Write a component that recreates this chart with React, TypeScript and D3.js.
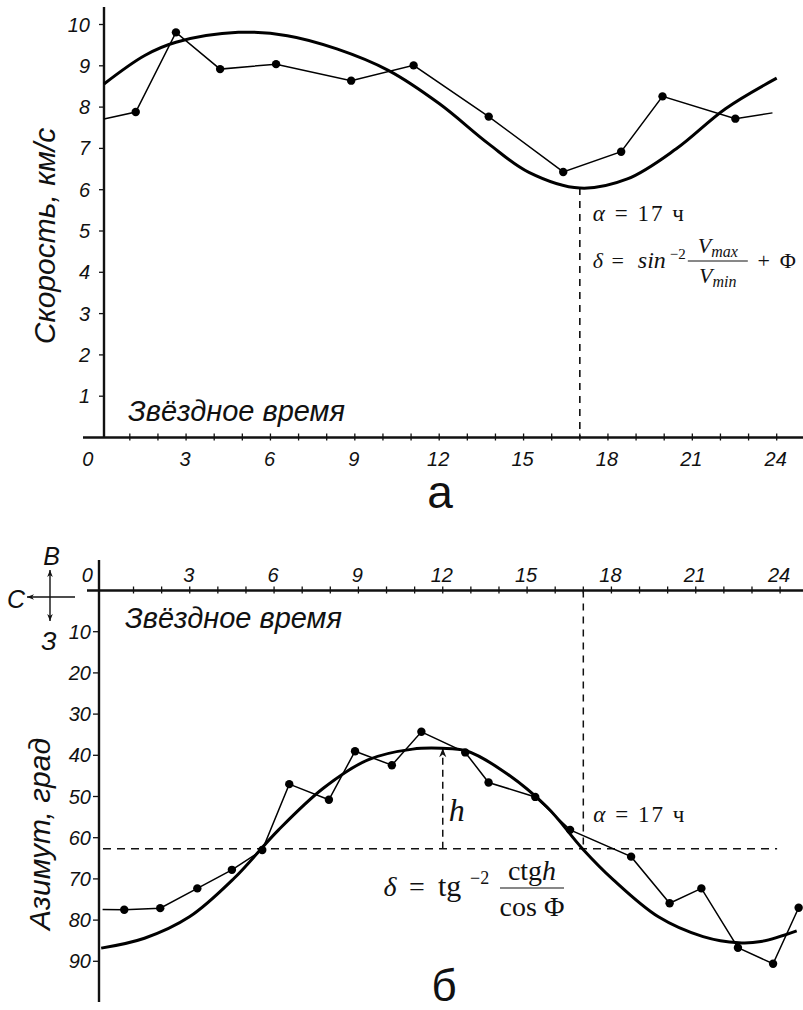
import React from "react";
import * as d3 from "d3";

// ---- data ----
const hourTicks = d3.range(0, 25, 1);
const hourLabels = [0, 3, 6, 9, 12, 15, 18, 21, 24];
const speedTicks = [1, 2, 3, 4, 5, 6, 7, 8, 9, 10];
const azTicks = [10, 20, 30, 40, 50, 60, 70, 80, 90];

const topHours = [0.08, 1.21, 2.64, 4.21, 6.2, 8.87, 11.09, 13.76, 16.41, 18.47, 19.94, 22.53, 23.85];
const topSpeeds = [7.71, 7.88, 9.81, 8.92, 9.04, 8.64, 9.01, 7.77, 6.43, 6.92, 8.26, 7.72, 7.86];
const topFitHours = [0.08, 1.53, 2.64, 4.86, 6.6, 8.36, 10.19, 12.01, 13.76, 15.19, 17.0, 18.69, 20.43, 22.18, 24.0];
const topFitSpeeds = [8.56, 9.25, 9.57, 9.81, 9.73, 9.41, 8.89, 8.08, 7.11, 6.42, 6.04, 6.26, 6.99, 7.96, 8.7];

const botHours = [-0.1, 0.67, 1.95, 3.27, 4.5, 5.58, 6.54, 7.95, 8.88, 10.19, 11.24, 12.8, 13.63, 15.29, 16.53, 18.7, 20.07, 21.2, 22.5, 23.75, 24.66];
const botAz = [77.4, 77.5, 77.1, 72.3, 67.8, 63.0, 47.0, 50.8, 39.0, 42.4, 34.3, 39.3, 46.6, 50.1, 58.1, 64.6, 75.9, 72.3, 86.7, 90.6, 77.0];
const botFitHours = [-0.15, 1.39, 2.99, 4.57, 6.16, 7.75, 9.34, 10.93, 11.96, 12.83, 14.1, 15.7, 16.96, 18.08, 19.67, 21.26, 22.53, 23.32, 24.59];
const botFitAz = [86.8, 84.4, 79.2, 69.9, 58.1, 48.0, 41.1, 38.5, 38.3, 38.9, 43.6, 52.5, 62.6, 70.3, 79.2, 84.0, 85.5, 85.2, 82.6];

const alphaHour = 17;
const topMinSpeed = 6.04;
const hLevelAz = 62.7;
const hTopAz = 38.3;
const hHour = 12;

const SANS = "'Liberation Sans', Arial, sans-serif";
const SERIF = "'Liberation Serif', 'DejaVu Serif', serif";

export default function App() {
  const xT = d3.scaleLinear().domain([0, 24]).range([101.7, 776.7]);
  const yT = d3.scaleLinear().domain([0, 10]).range([437.5, 24.5]);
  const xB = d3.scaleLinear().domain([0, 24]).range([105.4, 780.1]);
  const yB = d3.scaleLinear().domain([0, 100]).range([590.5, 1002.5]);

  const topAxisX = xT(0) + 2.3;
  const botAxisX = xB(0) - 6.4;

  const smooth = d3.curveCatmullRom.alpha(0.5);
  const topFitPath = d3.line<number>().x((_, i) => xT(topFitHours[i])).y((d) => yT(d)).curve(smooth)(topFitSpeeds) || "";
  const topDataPath = d3.line<number>().x((_, i) => xT(topHours[i])).y((d) => yT(d))(topSpeeds) || "";
  const botFitPath = d3.line<number>().x((_, i) => xB(botFitHours[i])).y((d) => yB(d)).curve(smooth)(botFitAz) || "";
  const botDataPath = d3.line<number>().x((_, i) => xB(botHours[i])).y((d) => yB(d))(botAz) || "";

  const tickFont = { fontFamily: SANS, fontStyle: "italic", fontSize: 20, fill: "#111" } as const;
  const ax = "#111";

  const ta = xT(alphaHour);
  const ba = xB(alphaHour);

  return (
    <svg width={803} height={1010} style={{ position: "absolute", left: 0, top: 0, background: "#fff" }}>
      <defs>
        <marker id="arr" viewBox="0 0 10 10" refX="10" refY="5" markerWidth="7" markerHeight="7" orient="auto-start-reverse" markerUnits="userSpaceOnUse">
          <path d="M0,1 L10,5 L0,9 L3,5 Z" fill="#111" />
        </marker>
        <marker id="arrH" viewBox="0 0 10 10" refX="10" refY="5" markerWidth="11" markerHeight="9" orient="auto" markerUnits="userSpaceOnUse">
          <path d="M0,1 L10,5 L0,9 L3,5 Z" fill="#111" />
        </marker>
      </defs>

      {/* ===== TOP CHART ===== */}
      <line x1={topAxisX} x2={topAxisX} y1={7} y2={yT(0)} stroke={ax} strokeWidth={2.4} />
      <line x1={83} x2={803} y1={yT(0)} y2={yT(0)} stroke={ax} strokeWidth={2.4} />
      {hourTicks.filter((h) => h > 0).map((h) => (
        <line key={"tt" + h} x1={xT(h)} x2={xT(h)} y1={yT(0) - 4} y2={yT(0) + 3} stroke={ax} strokeWidth={1.3} />
      ))}
      {hourLabels.map((h) => (
        <text key={"tl" + h} x={h === 0 ? xT(h) - 14 : xT(h) - 1} y={yT(0) + 28} textAnchor="middle" {...tickFont}>{h}</text>
      ))}
      {speedTicks.map((v) => (
        <g key={"st" + v}>
          <line x1={topAxisX - 5} x2={topAxisX} y1={yT(v)} y2={yT(v)} stroke={ax} strokeWidth={1.3} />
          <text x={90} y={yT(v) + 7} textAnchor="end" {...tickFont}>{v}</text>
        </g>
      ))}
      <text transform={`translate(55,236) rotate(-90)`} textAnchor="middle" fontFamily={SANS} fontStyle="italic" fontSize={30} fill="#111">Скорость, км/с</text>
      <text x={128} y={421} fontFamily={SANS} fontStyle="italic" fontSize={29} fill="#111">Звёздное время</text>

      <line x1={ta} x2={ta} y1={yT(topMinSpeed)} y2={yT(0)} stroke="#111" strokeWidth={1.6} strokeDasharray="7,6" />
      <path d={topFitPath} fill="none" stroke="#000" strokeWidth={3} />
      <path d={topDataPath} fill="none" stroke="#000" strokeWidth={1.5} />
      {topSpeeds.map((v, i) => (i > 0 && i < topSpeeds.length - 1 ? <circle key={"tp" + i} cx={xT(topHours[i])} cy={yT(v)} r={4.2} fill="#000" /> : null))}

      <text x={ta + 13} y={221} fontFamily={SERIF} fontSize={23} fill="#111" textLength={91} lengthAdjust="spacing">
        <tspan fontStyle="italic">α</tspan><tspan> = 17 ч</tspan>
      </text>
      <g fontFamily={SERIF} fill="#111">
        <text x={ta + 13} y={268} fontSize={22} fontStyle="italic">δ</text>
        <text x={ta + 38} y={268} fontSize={22} textAnchor="middle">=</text>
        <text x={ta + 58} y={268} fontSize={24} fontStyle="italic">sin</text>
        <text x={ta + 90} y={259} fontSize={15}>−2</text>
        <line x1={ta + 108} x2={ta + 168} y1={261} y2={261} stroke="#111" strokeWidth={1} />
        <text x={ta + 138} y={253} fontSize={22} fontStyle="italic" textAnchor="middle">V<tspan fontSize={16} dy={4}>max</tspan></text>
        <text x={ta + 138} y={283} fontSize={22} fontStyle="italic" textAnchor="middle">V<tspan fontSize={16} dy={4}>min</tspan></text>
        <text x={ta + 184} y={268} fontSize={22} textAnchor="middle">+</text>
        <text x={ta + 200} y={268} fontSize={22}>Φ</text>
      </g>
      <text x={440} y={508} textAnchor="middle" fontFamily={SANS} fontSize={46} fill="#111">а</text>

      {/* ===== BOTTOM CHART ===== */}
      <line x1={botAxisX} x2={botAxisX} y1={560} y2={1002} stroke={ax} strokeWidth={2.4} />
      <line x1={87} x2={803} y1={yB(0)} y2={yB(0)} stroke={ax} strokeWidth={2.4} />
      {hourTicks.filter((h) => h > 0).map((h) => (
        <line key={"bt" + h} x1={xB(h)} x2={xB(h)} y1={yB(0) - 4} y2={yB(0) + 3} stroke={ax} strokeWidth={1.3} />
      ))}
      {hourLabels.map((h) => (
        <text key={"bl" + h} x={h === 0 ? xB(h) - 18 : xB(h) - 1} y={yB(0) - 9} textAnchor="middle" {...tickFont}>{h}</text>
      ))}
      {azTicks.map((v) => (
        <g key={"at" + v}>
          <line x1={botAxisX - 6} x2={botAxisX} y1={yB(v)} y2={yB(v)} stroke={ax} strokeWidth={1.3} />
          <text x={91} y={yB(v) + 7} textAnchor="end" {...tickFont}>{v}</text>
        </g>
      ))}
      <text transform={`translate(50,834) rotate(-90)`} textAnchor="middle" fontFamily={SANS} fontStyle="italic" fontSize={30} fill="#111">Азимут, град</text>
      <text x={125} y={628} fontFamily={SANS} fontStyle="italic" fontSize={29} fill="#111">Звёздное время</text>

      {/* compass */}
      <line x1={50} x2={50} y1={597} y2={570} stroke="#111" strokeWidth={1.4} markerEnd="url(#arr)" />
      <line x1={50} x2={50} y1={597} y2={621} stroke="#111" strokeWidth={1.4} markerEnd="url(#arr)" />
      <line x1={75} x2={27} y1={597} y2={597} stroke="#111" strokeWidth={1.4} markerEnd="url(#arr)" />
      <text x={51.5} y={565} textAnchor="middle" fontFamily={SANS} fontStyle="italic" fontSize={25} fill="#111">В</text>
      <text x={16} y={608} textAnchor="middle" fontFamily={SANS} fontStyle="italic" fontSize={25} fill="#111">С</text>
      <text x={49} y={650} textAnchor="middle" fontFamily={SANS} fontStyle="italic" fontSize={25} fill="#111">З</text>

      {/* guides */}
      <line x1={botAxisX + 4} x2={xB(24) - 3} y1={yB(hLevelAz)} y2={yB(hLevelAz)} stroke="#111" strokeWidth={1.5} strokeDasharray="8,6" />
      <line x1={ba} x2={ba} y1={yB(0)} y2={yB(hLevelAz)} stroke="#111" strokeWidth={1.5} strokeDasharray="7,6" />
      <line x1={xB(hHour)} x2={xB(hHour)} y1={yB(hLevelAz)} y2={yB(hTopAz)} stroke="#111" strokeWidth={1.5} strokeDasharray="7,5" markerEnd="url(#arrH)" />

      <path d={botFitPath} fill="none" stroke="#000" strokeWidth={3} />
      <path d={botDataPath} fill="none" stroke="#000" strokeWidth={1.5} />
      {botAz.map((v, i) => (i > 0 ? <circle key={"bp" + i} cx={xB(botHours[i])} cy={yB(v)} r={4.2} fill="#000" /> : null))}

      <text x={xB(hHour) + 6} y={821} fontFamily={SERIF} fontStyle="italic" fontSize={32} fill="#111">h</text>
      <text x={ba + 10} y={822} fontFamily={SERIF} fontSize={23} fill="#111" textLength={91} lengthAdjust="spacing">
        <tspan fontStyle="italic">α</tspan><tspan> = 17 ч</tspan>
      </text>
      <g fontFamily={SERIF} fill="#111">
        <text x={383.5} y={896} fontSize={28} fontStyle="italic">δ</text>
        <text x={417} y={896} fontSize={28} textAnchor="middle">=</text>
        <text x={438} y={896} fontSize={30}>tg</text>
        <text x={470} y={884} fontSize={18}>−2</text>
        <line x1={500} x2={564} y1={888} y2={888} stroke="#111" strokeWidth={1.2} />
        <text x={532} y={880} fontSize={28} textAnchor="middle">ctg<tspan fontStyle="italic">h</tspan></text>
        <text x={532} y={916} fontSize={28} textAnchor="middle">cos Φ</text>
      </g>
      <text x={444} y={1001} textAnchor="middle" fontFamily={SANS} fontSize={44} fill="#111">б</text>
    </svg>
  );
}
